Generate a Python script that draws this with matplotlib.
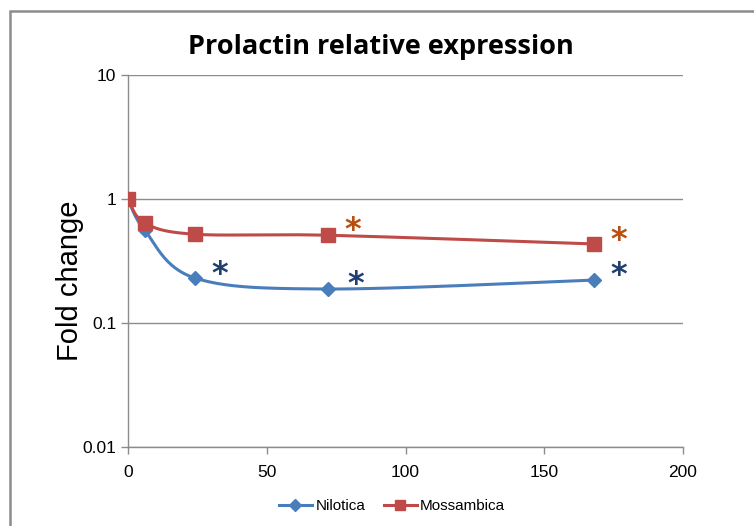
import numpy as np
import matplotlib
matplotlib.use("Agg")
import matplotlib.pyplot as plt
from matplotlib.patches import Rectangle
from matplotlib.lines import Line2D

# ---- data ----
hours = [0, 6, 24, 72, 168]
nilotica = [1.0, 0.56, 0.231, 0.188, 0.222]
mossambica = [1.0, 0.64, 0.52, 0.51, 0.434]
nil_star_x = [33, 82, 177]
nil_star_y = [0.245, 0.205, 0.240]
mos_star_x = [81, 177]
mos_star_y = [0.56, 0.46]
xticks = [0, 50, 100, 150, 200]
yticks = [0.01, 0.1, 1, 10]
ytick_labels = ["0.01", "0.1", "1", "10"]

BLUE = "#4A7EBB"
RED = "#BE4B48"
NAVY = "#1F3F6E"
ORANGE = "#B8500F"


def smooth(xs, ys, n=40):
    """Excel-like Bezier smoothing done in (x, log10 y) space."""
    P = np.column_stack([np.asarray(xs, float), np.log10(ys)])
    out = []
    m = len(P)
    for i in range(m - 1):
        p0 = P[i - 1] if i > 0 else P[i]
        p1 = P[i]
        p2 = P[i + 1]
        p3 = P[i + 2] if i + 2 < m else P[i + 1]
        c1 = p1 + (p2 - p0) / 6.0
        c2 = p2 - (p3 - p1) / 6.0
        t = np.linspace(0, 1, n)[:, None]
        seg = ((1 - t) ** 3) * p1 + 3 * ((1 - t) ** 2) * t * c1 + 3 * (1 - t) * t ** 2 * c2 + t ** 3 * p2
        out.append(seg if i == 0 else seg[1:])
    S = np.vstack(out)
    return S[:, 0], 10 ** S[:, 1]


fig = plt.figure(figsize=(7.54, 5.26), dpi=100)
fig.patch.set_facecolor("white")
fig.patches.append(Rectangle((10 / 754, -0.05), 1.2, 1 - 11 / 526 + 0.05,
                             transform=fig.transFigure, fill=False,
                             edgecolor="#8C8C8C", linewidth=1.8))

ax = fig.add_axes([128 / 754, 1 - 447 / 526, 555 / 754, 372 / 526])
ax.set_yscale("log")
ax.set_xlim(0, 200)
ax.set_ylim(0.01, 10)

sx, sy = smooth(hours, nilotica)
ax.plot(sx, sy, color=BLUE, lw=2.2, zorder=3)
ax.plot(hours, nilotica, ls="none", marker="D", ms=7, color=BLUE, zorder=4)
sx, sy = smooth(hours, mossambica)
ax.plot(sx, sy, color=RED, lw=2.2, zorder=3)
ax.plot(hours, mossambica, ls="none", marker="s", ms=10, color=RED, zorder=4)

for x, y in zip(nil_star_x, nil_star_y):
    ax.text(x, y, "*", color=NAVY, fontsize=23, fontweight="bold",
            ha="center", va="center", family="DejaVu Sans", zorder=5)
for x, y in zip(mos_star_x, mos_star_y):
    ax.text(x, y, "*", color=ORANGE, fontsize=23, fontweight="bold",
            ha="center", va="center", family="DejaVu Sans", zorder=5)

ax.set_xticks(xticks)
ax.set_xticklabels([str(v) for v in xticks])
ax.set_yticks(yticks)
ax.set_yticklabels(ytick_labels)
ax.yaxis.set_minor_locator(matplotlib.ticker.NullLocator())
ax.grid(axis="y", color="#8C8C8C", lw=1.0)
ax.set_axisbelow(True)
for s in ["top", "right"]:
    ax.spines[s].set_visible(False)
for s in ["left", "bottom"]:
    ax.spines[s].set_color("#8C8C8C")
    ax.spines[s].set_linewidth(1.0)
ax.tick_params(axis="both", colors="#8C8C8C", length=5, width=1.0,
               labelcolor="black", labelsize=12.5)
ax.tick_params(axis="x", pad=8)
for lab in ax.get_xticklabels() + ax.get_yticklabels():
    lab.set_family("Liberation Sans")

ax.set_ylabel("Fold change", fontsize=21, family="Liberation Sans")
ax.yaxis.set_label_coords(-0.080, 0.446)

fig.text(381 / 754, 1 - 47 / 526, "Prolactin relative expression",
         ha="center", va="center", fontsize=19.5, fontweight="bold",
         family="Open Sans")

handles = [Line2D([], [], color=BLUE, lw=2.2, marker="D", ms=6),
           Line2D([], [], color=RED, lw=2.2, marker="s", ms=7)]
fig.legend(handles, ["Nilotica", "Mossambica"], loc="center",
           bbox_to_anchor=(392 / 754, 1 - 506 / 526), ncol=2, frameon=False,
           prop={"family": "Liberation Sans", "size": 11}, handlelength=2.2,
           handletextpad=0.2, columnspacing=1.2)

fig.savefig("out.png", dpi=100)
